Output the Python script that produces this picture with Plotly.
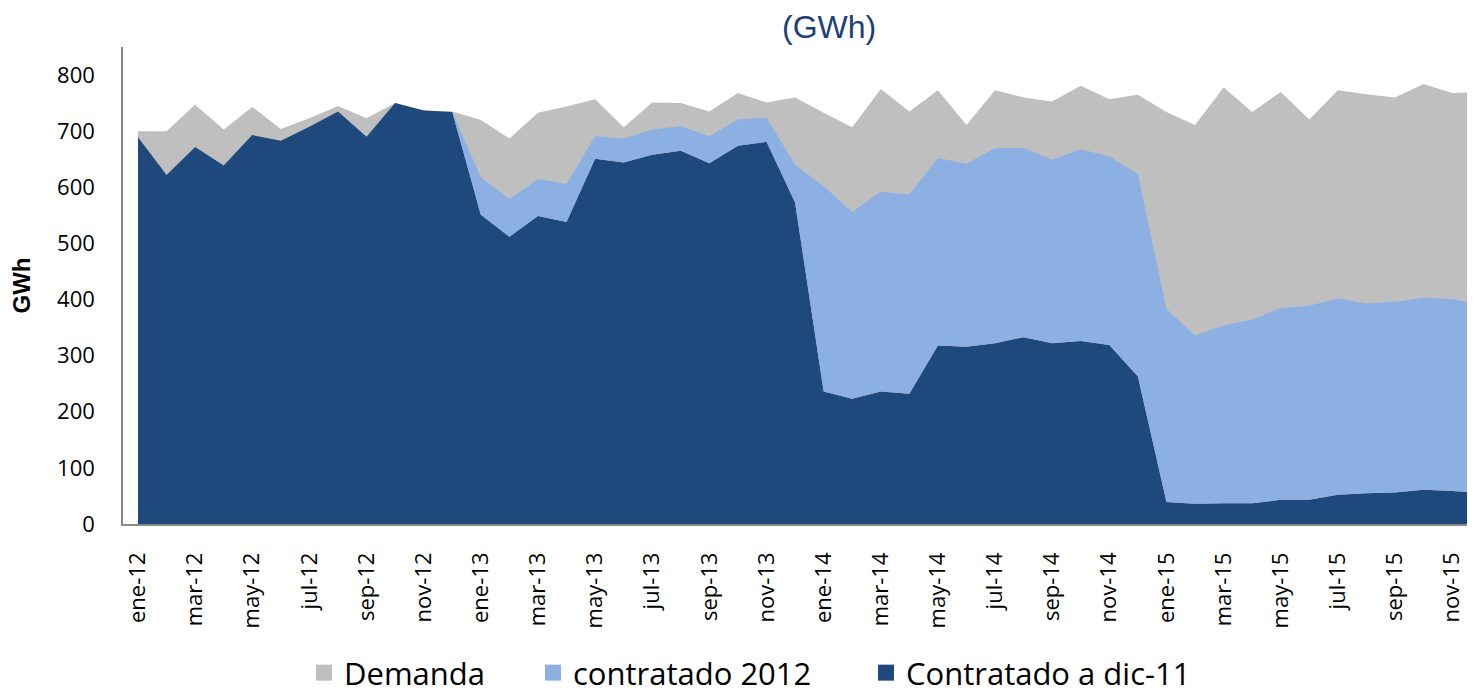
import plotly.graph_objects as go

months = ["ene", "feb", "mar", "abr", "may", "jun", "jul", "ago", "sep", "oct", "nov", "dic"]
years = ["12", "13", "14", "15"]
categories = [f"{m}-{y}" for y in years for m in months]

demanda = [700, 700, 747, 703, 743, 704, 723, 745, 723, 750, 737, 735,
           720, 687, 733, 744, 757, 707, 751, 750, 735, 768, 751, 760,
           733, 707, 775, 735, 773, 711, 773, 760, 753, 781, 757, 765,
           734, 711, 778, 734, 770, 721, 773, 766, 760, 784, 768, 770]

contratado_dic11 = [689, 622, 672, 639, 693, 683, 708, 735, 690, 750, 737, 734,
                    551, 512, 549, 538, 651, 644, 658, 665, 643, 674, 681, 573,
                    236, 223, 236, 232, 318, 316, 322, 333, 322, 326, 319, 263,
                    39, 36, 37, 37, 43, 43, 52, 55, 56, 61, 59, 55]

contratado_2012 = [0, 0, 0, 0, 0, 0, 0, 0, 0, 0, 0, 0,
                   67, 67, 66, 68, 40, 43, 45, 44, 48, 47, 43, 67,
                   366, 333, 356, 355, 334, 326, 348, 337, 327, 342, 336, 361,
                   344, 300, 317, 327, 342, 346, 350, 338, 340, 342, 342, 336]

names = ["Demanda", "contratado 2012", "Contratado a dic-11"]
colors = ["#BFBFBF", "#8DB0E3", "#1F497D"]

xidx = list(range(len(categories)))
tick_idx = xidx[::2]
tick_txt = categories[::2]

W, H = 1467, 688

fig = go.Figure()
fig.add_trace(go.Scatter(x=xidx, y=demanda, mode="none", fill="tozeroy",
                         fillcolor=colors[0], showlegend=False, name=names[0]))
fig.add_trace(go.Scatter(x=xidx, y=contratado_dic11, mode="none", stackgroup="c",
                         fillcolor=colors[2], showlegend=False, name=names[2]))
fig.add_trace(go.Scatter(x=xidx, y=contratado_2012, mode="none", stackgroup="c",
                         fillcolor=colors[1], showlegend=False, name=names[1]))

legend_ids = ["legend", "legend2", "legend3"]
legend_x = [296, 525, 858]
for n, c, lid in zip(names, colors, legend_ids):
    fig.add_trace(go.Scatter(x=[None], y=[None], mode="markers", name=n, legend=lid,
                             marker=dict(symbol="square", size=20, color=c)))

def leg(px):
    return dict(orientation="h", xref="container", yref="container",
                x=px / W, xanchor="left", y=1 - 665 / H, yanchor="middle",
                font=dict(size=31, family="Open Sans, sans-serif"),
                itemsizing="trace", traceorder="normal",
                bgcolor="rgba(0,0,0,0)")

fig.update_layout(
    width=W, height=H,
    margin=dict(l=115, r=0, t=39, b=172),
    plot_bgcolor="white", paper_bgcolor="white",
    font=dict(family="Open Sans, sans-serif", color="#000000"),
    showlegend=True,
    legend=leg(legend_x[0]),
    legend2=leg(legend_x[1]),
    legend3=leg(legend_x[2]),
    annotations=[dict(text="(GWh)", xref="paper", yref="paper",
                      x=0.522, y=(516 - 19) / 477, xanchor="center", yanchor="middle",
                      showarrow=False,
                      font=dict(size=32, family="Liberation Sans, Arial, sans-serif",
                                color="#1F3F78"))],
)

fig.update_xaxes(range=[-0.525, 46.8], tickmode="array", tickvals=tick_idx,
                 ticktext=tick_txt, tickangle=-90, ticks="", showgrid=False,
                 showline=True, linecolor="#898989", linewidth=1.5, automargin=False,
                 tickfont=dict(size=22), ticklabelstandoff=18, zeroline=False)
fig.update_yaxes(range=[0, 850], tickvals=[0, 100, 200, 300, 400, 500, 600, 700, 800],
                 ticks="", showgrid=False, showline=True, linecolor="#898989",
                 linewidth=1.5, tickfont=dict(size=22), ticklabelstandoff=22,
                 zeroline=False, automargin=False,
                 title=dict(text="<b>GWh</b>", standoff=26,
                            font=dict(size=24, family="Liberation Sans, Arial, sans-serif")))

fig.write_html("out.html")
